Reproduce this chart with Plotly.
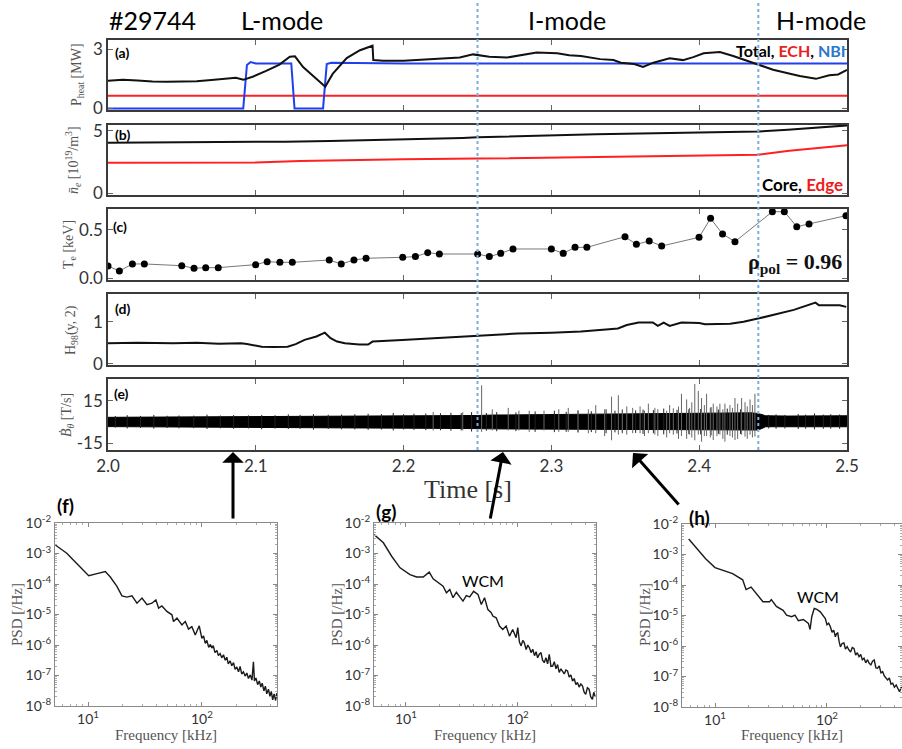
import numpy as np
import plotly.graph_objects as go

W, H = 902, 749

# ---------------- (a) heating power [MW] ----------------
t_total = [2.000, 2.010, 2.020, 2.030, 2.040, 2.050, 2.060, 2.070, 2.080, 2.0865, 2.0916,
           2.0983, 2.107, 2.116, 2.123, 2.1265, 2.132, 2.139, 2.147, 2.152, 2.1615, 2.1705,
           2.176, 2.179, 2.1795, 2.186, 2.200, 2.211, 2.225, 2.238, 2.247, 2.258, 2.270,
           2.280, 2.290, 2.304, 2.312, 2.320, 2.333, 2.342, 2.347, 2.356, 2.362, 2.369,
           2.380, 2.389, 2.396, 2.403, 2.414, 2.423, 2.431, 2.439, 2.450, 2.460, 2.468,
           2.479, 2.488, 2.494, 2.500]
p_total = [1.40, 1.45, 1.42, 1.36, 1.35, 1.36, 1.38, 1.44, 1.50, 1.55, 1.45,
           1.62, 1.90, 2.22, 2.62, 2.64, 2.10, 1.62, 1.10, 1.75, 2.55, 2.95,
           3.08, 3.18, 2.45, 2.42, 2.42, 2.46, 2.52, 2.58, 2.74, 2.62, 2.58,
           2.70, 2.84, 2.80, 2.70, 2.66, 2.50, 2.45, 2.32, 2.25, 2.10, 2.32,
           2.54, 2.45, 2.60, 2.80, 2.86, 2.66, 2.45, 2.22, 1.96, 1.78, 1.64,
           1.50, 1.68, 1.72, 1.95]
t_nbi = [2.000, 2.0915, 2.0940, 2.0965, 2.1000, 2.1240, 2.1262, 2.1455, 2.1480, 2.1510,
         2.2000, 2.3000, 2.4000, 2.5000]
p_nbi = [0.0, 0.0, 2.20, 2.35, 2.28, 2.28, 0.0, 0.0, 2.25, 2.32, 2.28, 2.28, 2.28, 2.28]
t_ech = [2.0, 2.5]
p_ech = [0.64, 0.64]

# ---------------- (b) line-averaged density [1e19 m^-3] ----------------
t_core = [2.00, 2.03, 2.06, 2.09, 2.12, 2.15, 2.18, 2.21, 2.22, 2.24, 2.25, 2.28, 2.30,
          2.33, 2.36, 2.384, 2.41, 2.44, 2.46, 2.473, 2.491, 2.50]
n_core = [4.04, 4.06, 4.05, 4.08, 4.12, 4.18, 4.25, 4.30, 4.35, 4.42, 4.47, 4.58, 4.66,
          4.72, 4.78, 4.84, 4.88, 4.93, 5.08, 5.19, 5.38, 5.42]
t_edge = [2.00, 2.05, 2.10, 2.13, 2.16, 2.20, 2.25, 2.30, 2.34, 2.38, 2.43, 2.44, 2.461,
          2.48, 2.50]
n_edge = [2.45, 2.45, 2.46, 2.58, 2.66, 2.72, 2.77, 2.85, 2.92, 2.98, 3.06, 3.08, 3.40,
          3.62, 3.83]

# ---------------- (c) edge electron temperature [keV] ----------------
t_te = [2.0000, 2.0077, 2.0165, 2.0246, 2.0499, 2.0582, 2.0661, 2.0746, 2.0999, 2.1077,
        2.1163, 2.1247, 2.1497, 2.1578, 2.1664, 2.1746, 2.1994, 2.2080, 2.2163, 2.2242,
        2.2501, 2.2580, 2.2657, 2.2740, 2.3000, 2.3080, 2.3160, 2.3240, 2.3498, 2.3575,
        2.3662, 2.3746, 2.3999, 2.4077, 2.4158, 2.4242, 2.4495, 2.4576, 2.4660, 2.4743,
        2.4993]
te = [0.127, 0.075, 0.148, 0.148, 0.130, 0.103, 0.110, 0.110, 0.141, 0.172,
      0.165, 0.165, 0.189, 0.148, 0.189, 0.207, 0.217, 0.224, 0.265, 0.251,
      0.251, 0.224, 0.258, 0.303, 0.303, 0.258, 0.320, 0.320, 0.430, 0.351,
      0.386, 0.334, 0.424, 0.620, 0.458, 0.379, 0.689, 0.689, 0.534, 0.562,
      0.648]

# ---------------- (d) confinement factor H98(y,2) ----------------
t_h98 = [2.000, 2.020, 2.044, 2.060, 2.075, 2.090, 2.094, 2.104, 2.112, 2.1215, 2.127,
         2.133, 2.141, 2.1467, 2.1506, 2.155, 2.1603, 2.170, 2.176, 2.179, 2.199, 2.225,
         2.250, 2.277, 2.300, 2.320, 2.339, 2.345, 2.351, 2.359, 2.3686, 2.372, 2.376,
         2.380, 2.388, 2.400, 2.404, 2.421, 2.430, 2.4405, 2.464, 2.4787, 2.481, 2.495,
         2.4995]
h98 = [0.49, 0.50, 0.49, 0.50, 0.48, 0.49, 0.47, 0.41, 0.40, 0.41, 0.47,
       0.57, 0.65, 0.74, 0.61, 0.53, 0.49, 0.46, 0.46, 0.53, 0.57, 0.62,
       0.67, 0.72, 0.74, 0.77, 0.82, 0.84, 0.92, 0.98, 0.98, 0.90, 0.98,
       0.90, 0.98, 0.97, 0.94, 0.95, 1.00, 1.08, 1.28, 1.45, 1.39, 1.39,
       1.35]

# ---------------- (e) magnetic pick-up coil dB/dt [T/s] ----------------
band_t = [2.00, 2.02, 2.04, 2.06, 2.08, 2.10, 2.12, 2.14, 2.16, 2.18, 2.20, 2.22, 2.24,
          2.25, 2.26, 2.28, 2.30, 2.32, 2.34, 2.36, 2.38, 2.40, 2.42, 2.435, 2.44, 2.445,
          2.46, 2.48, 2.50]
band_hi = [3.3, 3.4, 3.3, 3.5, 3.4, 3.6, 3.8, 3.8, 4.0, 4.1, 4.3, 4.5, 4.7,
           4.6, 4.9, 5.1, 5.2, 5.4, 5.6, 6.0, 6.3, 6.5, 6.5, 6.5, 6.0, 4.4,
           4.2, 4.4, 4.4]
band_lo = [-3.3, -3.4, -3.3, -3.4, -3.4, -3.6, -3.7, -3.8, -3.8, -4.0, -4.1, -4.3, -4.5,
           -4.7, -4.9, -5.0, -5.2, -5.2, -5.5, -5.7, -5.9, -6.0, -6.0, -6.0, -5.7, -3.4,
           -3.2, -3.4, -3.4]
burst_t = [2.2200, 2.2400, 2.2528, 2.2600, 2.2708, 2.2780, 2.2850, 2.2950, 2.3050, 2.3114,
           2.3180, 2.3250, 2.3300, 2.3360, 2.3407, 2.3453, 2.3480, 2.3510, 2.3550, 2.3600,
           2.3630, 2.3656, 2.3700, 2.3720, 2.3780, 2.3800, 2.3825, 2.3860, 2.3880, 2.3915,
           2.3935, 2.3950, 2.3970, 2.3994, 2.4016, 2.4035, 2.4050, 2.4075, 2.4095, 2.4120,
           2.4140, 2.4160, 2.4174, 2.4208, 2.4225, 2.4242, 2.4260, 2.4287, 2.4310, 2.4325,
           2.4344, 2.4360, 2.4377]
burst_hi = [7, 7, 26, 9, 10, 8, 8, 8, 9, 10,
            8, 9, 12, 9, 18, 19, 9, 11, 10, 11,
            8, 13, 10, 9, 8, 12, 9.7, 11, 20, 16,
            10, 14, 27, 22, 17, 12, 20, 10, 13, 11,
            13, 9, 13, 12, 10, 17, 13, 17, 14, 11,
            16, 12, 20]
burst_lo = [-6, -6, -7, -6, -6, -6, -7, -6, -7, -7,
            -7, -8, -8, -10, -13, -9, -8, -9, -8, -8,
            -10, -8, -9, -10, -11, -8, -9, -12, -10, -12,
            -9, -11, -13, -9, -14, -10, -10, -11, -12.8, -10,
            -9, -12, -14, -10, -11, -12.8, -12, -9, -10.4, -12,
            -9, -11, -10.4]
hair_t = [2.005, 2.013, 2.022, 2.031, 2.040, 2.048, 2.058, 2.067, 2.076, 2.085, 2.095,
          2.104, 2.113, 2.122, 2.130, 2.139, 2.149, 2.158, 2.167, 2.176, 2.185, 2.193,
          2.200, 2.207, 2.215, 2.225, 2.232, 2.239, 2.246, 2.256, 2.263, 2.276, 2.289,
          2.302, 2.310, 2.318, 2.327, 2.337, 2.343, 2.348, 2.357, 2.362, 2.369, 2.376,
          2.385, 2.393, 2.401, 2.408, 2.413, 2.419, 2.428, 2.447, 2.452, 2.458, 2.467,
          2.472, 2.478, 2.484, 2.489, 2.495]
hair_hi = [4.2, 4.8, 4.3, 5.0, 4.4, 4.6, 4.5, 5.2, 4.6, 4.9, 4.7,
           5.0, 4.8, 5.4, 5.0, 5.6, 5.1, 5.3, 5.5, 5.8, 5.6, 6.4,
           5.5, 5.9, 6.0, 6.2, 6.5, 6.3, 7.0, 6.4, 7.0, 6.8, 7.5,
           8.0, 7.2, 8.2, 7.6, 9.0, 8.0, 8.4, 8.2, 8.8, 8.4, 9.5,
           8.6, 9.0, 9.2, 10.5, 8.8, 9.5, 9.0, 5.0, 5.4, 5.0, 5.6,
           5.2, 6.0, 5.2, 5.5, 5.3]
hair_lo = [-4.0, -4.6, -4.2, -4.8, -4.3, -4.5, -4.4, -5.0, -4.5, -4.8, -4.6,
           -5.2, -4.7, -5.0, -4.9, -5.5, -5.0, -5.2, -5.3, -5.6, -5.4, -6.0,
           -5.3, -5.6, -5.8, -5.9, -6.2, -6.0, -6.8, -6.2, -6.6, -6.5, -7.0,
           -7.2, -7.0, -7.5, -7.2, -8.0, -7.4, -7.6, -7.8, -8.5, -8.0, -8.8,
           -8.2, -8.6, -8.8, -9.5, -8.4, -9.0, -8.6, -4.6, -4.8, -4.6, -5.0,
           -4.8, -5.2, -4.8, -4.8, -4.9]

# ---------------- (f)-(h) power spectral densities (log10 kHz, log10 /Hz) ----------------
lf_f = [0.713, 0.760, 0.816, 0.860, 0.904, 0.950, 1.006, 1.079, 1.152, 1.196, 1.254, 1.298,
        1.342, 1.386, 1.430, 1.474, 1.518, 1.561, 1.596, 1.620, 1.649, 1.693, 1.737, 1.751,
        1.781, 1.825, 1.854, 1.883, 1.912, 1.942, 1.977, 2.000, 2.015, 2.030, 2.044, 2.060,
        2.075, 2.088, 2.100, 2.115, 2.132, 2.145, 2.160, 2.175, 2.190, 2.205, 2.219, 2.232,
        2.248, 2.263, 2.278, 2.292, 2.307, 2.322, 2.336, 2.350, 2.365, 2.380, 2.395, 2.409,
        2.425, 2.440, 2.453, 2.462, 2.475, 2.490, 2.505, 2.518, 2.530, 2.545, 2.558, 2.570,
        2.585, 2.598, 2.610, 2.622, 2.635, 2.648, 2.658]
lp_f = [-2.72, -2.85, -3.00, -3.17, -3.33, -3.50, -3.73, -3.66, -3.59, -3.77, -4.08, -4.39,
        -4.43, -4.39, -4.63, -4.46, -4.68, -4.63, -4.52, -4.79, -4.72, -4.90, -5.01, -5.23,
        -5.12, -5.34, -5.23, -5.48, -5.40, -5.67, -5.37, -5.78, -5.70, -5.95, -5.85, -6.08,
        -5.98, -6.10, -6.02, -6.25, -6.18, -6.35, -6.28, -6.42, -6.32, -6.50, -6.40, -6.62,
        -6.52, -6.68, -6.58, -6.80, -6.72, -6.88, -6.70, -6.95, -6.88, -7.02, -6.92, -7.10,
        -6.98, -7.15, -6.55, -7.18, -7.08, -7.30, -7.18, -7.38, -7.25, -7.50, -7.35, -7.60,
        -7.45, -7.68, -7.52, -7.80, -7.60, -7.82, -7.58]

lf_g = [0.715, 0.798, 0.872, 0.947, 1.036, 1.095, 1.154, 1.208, 1.243, 1.288, 1.332, 1.362,
        1.392, 1.421, 1.451, 1.481, 1.510, 1.540, 1.570, 1.605, 1.644, 1.674, 1.703, 1.733,
        1.763, 1.777, 1.807, 1.837, 1.866, 1.896, 1.926, 1.955, 1.985, 2.000, 2.015, 2.030,
        2.045, 2.059, 2.075, 2.090, 2.104, 2.119, 2.134, 2.150, 2.164, 2.178, 2.193, 2.208,
        2.222, 2.237, 2.252, 2.267, 2.282, 2.297, 2.312, 2.327, 2.342, 2.356, 2.371, 2.386,
        2.401, 2.416, 2.431, 2.445, 2.460, 2.475, 2.490, 2.505, 2.520, 2.534, 2.549, 2.564,
        2.579, 2.594, 2.608, 2.623, 2.638, 2.653, 2.668, 2.680, 2.691]
lp_g = [-2.38, -2.65, -3.09, -3.47, -3.69, -3.77, -3.77, -3.61, -3.83, -3.96, -4.07, -4.29,
        -4.18, -4.45, -4.27, -4.42, -4.56, -4.38, -4.42, -4.24, -4.34, -4.67, -4.45, -4.84,
        -4.94, -5.05, -5.11, -5.38, -5.49, -5.38, -5.71, -5.49, -5.76, -5.43, -5.90, -6.03,
        -5.85, -5.93, -6.15, -6.00, -6.09, -6.25, -6.14, -6.35, -6.22, -6.42, -6.30, -6.25,
        -6.50, -6.58, -6.42, -6.62, -6.31, -6.70, -6.69, -6.55, -6.78, -6.64, -6.90, -6.78,
        -6.85, -6.95, -6.82, -6.85, -7.05, -6.98, -7.18, -7.10, -7.30, -7.23, -7.38, -7.28,
        -7.34, -7.55, -7.62, -7.40, -7.45, -7.70, -7.78, -7.55, -7.67]

lf_h = [0.765, 0.840, 0.916, 1.000, 1.081, 1.157, 1.247, 1.277, 1.322, 1.367, 1.428, 1.488,
        1.503, 1.548, 1.608, 1.639, 1.684, 1.714, 1.744, 1.789, 1.834, 1.849, 1.864, 1.886,
        1.910, 1.940, 1.985, 2.000, 2.015, 2.030, 2.045, 2.060, 2.075, 2.085, 2.096, 2.108,
        2.120, 2.135, 2.151, 2.165, 2.180, 2.196, 2.211, 2.226, 2.241, 2.256, 2.271, 2.286,
        2.301, 2.316, 2.331, 2.346, 2.362, 2.377, 2.392, 2.407, 2.422, 2.437, 2.452, 2.467,
        2.482, 2.497, 2.512, 2.527, 2.542, 2.557, 2.572, 2.587, 2.602, 2.618, 2.633, 2.648,
        2.663, 2.678]
lp_h = [-2.49, -2.82, -3.14, -3.43, -3.52, -3.63, -3.83, -4.15, -4.07, -4.28, -4.55, -4.55,
        -4.48, -4.70, -4.83, -4.99, -5.04, -4.99, -5.17, -5.13, -5.26, -5.46, -5.04, -4.77,
        -4.80, -4.88, -5.10, -5.30, -5.25, -5.37, -5.55, -5.48, -5.70, -5.60, -5.57, -5.85,
        -6.03, -5.92, -5.90, -6.10, -6.02, -6.13, -6.20, -6.05, -6.08, -6.30, -6.22, -6.35,
        -6.28, -6.45, -6.40, -6.55, -6.45, -6.57, -6.62, -6.50, -6.46, -6.72, -6.73, -6.65,
        -6.88, -6.84, -6.98, -7.05, -7.11, -7.05, -7.25, -7.22, -7.35, -7.28, -7.38, -7.50,
        -7.35, -7.43]

# ---------------- styling ----------------
SANS = "Lato, 'Open Sans', sans-serif"
SERIF = "'Liberation Serif', 'DejaVu Serif', serif"
FRAME = "#3a3a3a"
TICKC = "#333333"
DOT_BLUE = "#7aaee0"


def px(x):
    return x / W


def py(y):
    return 1 - y / H


def segments(t, lo, hi):
    xs, ys = [], []
    for a, b, c in zip(t, lo, hi):
        xs += [a, a, None]
        ys += [b, c, None]
    return xs, ys


fig = go.Figure()

# (a)
fig.add_trace(go.Scatter(x=t_ech, y=p_ech, mode="lines", line=dict(color="#ff2020", width=2),
                         xaxis="x", yaxis="y"))
fig.add_trace(go.Scatter(x=t_nbi, y=p_nbi, mode="lines", line=dict(color="#2040f0", width=2),
                         xaxis="x", yaxis="y"))
fig.add_trace(go.Scatter(x=t_total, y=p_total, mode="lines", line=dict(color="#111111", width=2),
                         xaxis="x", yaxis="y"))
# (b)
fig.add_trace(go.Scatter(x=t_core, y=n_core, mode="lines", line=dict(color="#111111", width=2),
                         xaxis="x2", yaxis="y2"))
fig.add_trace(go.Scatter(x=t_edge, y=n_edge, mode="lines", line=dict(color="#ff2020", width=2),
                         xaxis="x2", yaxis="y2"))
# (c)
fig.add_trace(go.Scatter(x=t_te, y=te, mode="lines+markers", line=dict(color="#777777", width=1),
                         marker=dict(color="#000000", size=7),
                         xaxis="x3", yaxis="y3"))
# (d)
fig.add_trace(go.Scatter(x=t_h98, y=h98, mode="lines", line=dict(color="#111111", width=2),
                         xaxis="x4", yaxis="y4"))
# (e)
fig.add_trace(go.Scatter(x=band_t, y=band_lo, mode="lines", line=dict(color="#000000", width=1),
                         xaxis="x5", yaxis="y5"))
fig.add_trace(go.Scatter(x=band_t, y=band_hi, mode="lines", line=dict(color="#000000", width=1),
                         fill="tonexty", fillcolor="#000000", xaxis="x5", yaxis="y5"))
hx, hy = segments(hair_t, hair_lo, hair_hi)
fig.add_trace(go.Scatter(x=hx, y=hy, mode="lines", line=dict(color="#222222", width=1),
                         xaxis="x5", yaxis="y5"))
bx, by = segments(burst_t, burst_lo, burst_hi)
fig.add_trace(go.Scatter(x=bx, y=by, mode="lines", line=dict(color="#666666", width=1),
                         xaxis="x5", yaxis="y5"))
# (f)-(h)
for lf, lp, ax in ((lf_f, lp_f, "6"), (lf_g, lp_g, "7"), (lf_h, lp_h, "8")):
    fig.add_trace(go.Scatter(x=np.power(10.0, lf), y=np.power(10.0, lp), mode="lines",
                             line=dict(color="#1a1a1a", width=1.4),
                             xaxis="x" + ax, yaxis="y" + ax))

# ---------------- axes ----------------
top_x = [px(108), px(847)]
rows = [(40, 110), (125, 195), (209, 280), (294, 365), (379, 450)]
y_ranges = [[-0.08, 3.47], [-0.13, 5.45], [-0.018, 0.717], [-0.024, 1.655], [-19.9, 30.5]]
y_ticks = [([0, 3], ["0", "3"]), ([0, 5], ["0", "5"]), ([0, 0.5], ["0.0", "0.5"]),
           ([0, 1], ["0", "1"]), ([-15, 15], ["-15", "15"])]
t_ticks = [2.0, 2.1, 2.2, 2.3, 2.4, 2.5]

layout = dict(width=W, height=H, margin=dict(l=0, r=0, t=0, b=0, autoexpand=False),
              paper_bgcolor="white", plot_bgcolor="white", showlegend=False)

for i, ((y0, y1), yr, (tv, tt)) in enumerate(zip(rows, y_ranges, y_ticks), start=1):
    sx = "" if i == 1 else str(i)
    layout["xaxis" + sx] = dict(
        domain=top_x, range=[2.0, 2.5], anchor="y" + sx, tickvals=t_ticks,
        ticktext=["2.0", "2.1", "2.2", "2.3", "2.4", "2.5"], showticklabels=(i == 5),
        ticks="inside", ticklen=5, tickcolor="#666666", mirror="ticks", showline=True,
        linecolor=FRAME, linewidth=1.6, showgrid=False, zeroline=False, automargin=False,
        tickfont=dict(family=SANS, size=17, color=TICKC))
    layout["yaxis" + sx] = dict(
        domain=[py(y1), py(y0)], range=yr, anchor="x" + sx, tickvals=tv, ticktext=tt,
        ticks="inside", ticklen=5, tickcolor="#666666", mirror="ticks", showline=True,
        linecolor=FRAME, linewidth=1.6, showgrid=False, zeroline=False, automargin=False,
        tickfont=dict(family=SANS, size=17, color=TICKC))

bottom = [("6", (55, 277), (523, 706), [0.71, 2.66]),
          ("7", (374, 596), (523, 706), [0.714, 2.70]),
          ("8", (682, 902), (524, 707), [0.705, 2.67])]
minor_x = [6, 7, 8, 9, 20, 30, 40, 50, 60, 70, 80, 90, 200, 300, 400]
minor_y = [m * 10.0 ** e for e in range(-8, -2) for m in range(2, 10)]
for ax, (xa, xb), (ya, yb), xr in bottom:
    layout["xaxis" + ax] = dict(
        type="log", domain=[px(xa), px(xb)], range=xr, anchor="y" + ax,
        tickvals=[10, 100], ticktext=["10<sup>1</sup>", "10<sup>2</sup>"],
        ticks="inside", ticklen=4, tickcolor="#888888", mirror="ticks", showline=True,
        linecolor="#8a8a8a", linewidth=1.2, showgrid=False, zeroline=False, automargin=False,
        minor=dict(tickvals=minor_x, ticks="inside", ticklen=2, tickcolor="#aaaaaa"),
        tickfont=dict(family=SANS, size=14, color=TICKC))
    layout["yaxis" + ax] = dict(
        type="log", domain=[py(yb), py(ya)], range=[-8, -2], anchor="x" + ax,
        tickvals=[10.0 ** e for e in range(-8, -1)],
        ticktext=["10<sup>%d</sup>" % e for e in range(-8, -1)],
        ticks="inside", ticklen=4, tickcolor="#888888", mirror="ticks", showline=True,
        linecolor="#8a8a8a", linewidth=1.2, showgrid=False, zeroline=False, automargin=False,
        minor=dict(tickvals=minor_y, ticks="inside", ticklen=2, tickcolor="#aaaaaa"),
        tickfont=dict(family=SANS, size=14, color=TICKC))

fig.update_layout(**layout)

# ---------------- mode boundaries ----------------
for t_b in (2.25, 2.44):
    fig.add_shape(type="line", xref="x5", yref="paper", x0=t_b, x1=t_b, y0=py(450), y1=1.0,
                  line=dict(color=DOT_BLUE, width=2, dash="dot"), layer="above")

# ---------------- text ----------------
ann = []


def text(x, y, s, size, family=SANS, color="#000000", xanchor="center", angle=0):
    ann.append(dict(x=px(x), y=py(y), xref="paper", yref="paper", text=s, showarrow=False,
                    font=dict(family=family, size=size, color=color), xanchor=xanchor,
                    yanchor="middle", textangle=angle))


text(152, 20, "#29744", 25)
text(282, 20, "L-mode", 25)
text(567, 20, "I-mode", 25)
text(821, 20, "H-mode", 25)

for lbl, (x, y) in zip("abcde", [(122, 53), (123, 134), (120, 226), (122, 308), (121, 393)]):
    text(x, y, "<b>(%s)</b>" % lbl, 14)

text(848, 50, "<b>Total, <span style='color:#e8231f'>ECH</span>, "
              "<span style='color:#2a78d0'>NBI</span></b>", 16, xanchor="right")
text(845, 184, "<b>Core, <span style='color:#ee1c1c'>Edge</span></b>", 17, xanchor="right")
text(844, 263, "<b>ρ<sub>pol</sub> = 0.96</b>", 22, family=SERIF, color="#111111",
     xanchor="right")

GREY = "#555555"
text(78, 75, "P<sub>heat</sub> [MW]", 14, family=SERIF, color=GREY, angle=-90)
text(73, 160, "<i>n̄</i><sub><i>e</i></sub> [10<sup>19</sup>/m<sup>3</sup>]", 14,
     family=SERIF, color=GREY, angle=-90)
text(70, 245, "T<sub>e</sub> [keV]", 14, family=SERIF, color=GREY, angle=-90)
text(72, 330, "H<sub>98</sub>(y, 2)", 14, family=SERIF, color=GREY, angle=-90)
text(67, 415, "<i>Ḃ</i><sub><i>θ</i></sub> [T/s]", 14, family=SERIF, color=GREY, angle=-90)
text(468, 490, "Time [s]", 26, family=SERIF, color="#333333")

for lbl, (x, y) in zip("fgh", [(65, 505), (386, 511), (699, 517)]):
    text(x, y, "<b>(%s)</b>" % lbl, 19)
for cx, ax_x in ((166, 17), (485, 337), (792, 645)):
    text(cx, 735, "Frequency [kHz]", 15, family=SERIF, color=GREY)
    text(ax_x, 615, "PSD [/Hz]", 15, family=SERIF, color=GREY, angle=-90)
text(483, 580, "WCM", 16)
text(818, 596, "WCM", 16)

# arrows from spectra to time windows
for (hx_, hy_), (tx_, ty_) in (((233, 452), (233, 520)), ((503, 452), (490, 520)),
                               ((633, 453), (680, 506))):
    ann.append(dict(x=px(hx_), y=py(hy_), xref="paper", yref="paper", ax=tx_ - hx_,
                    ay=ty_ - hy_, axref="pixel", ayref="pixel", showarrow=True, text="",
                    arrowhead=1, arrowsize=1.2, arrowwidth=3, arrowcolor="#000000"))

fig.update_layout(annotations=ann)
fig.write_html("out.html")
